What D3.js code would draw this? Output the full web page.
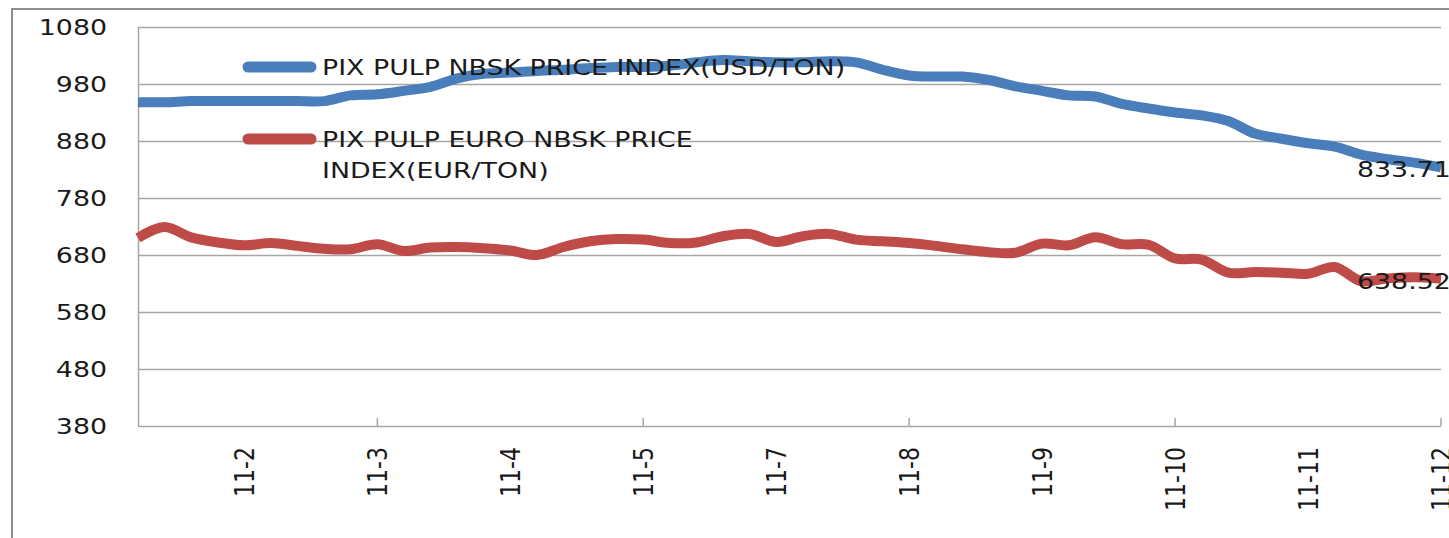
<html lang="en">

<head>
    <meta charset="UTF-8">
    <title>PIX Pulp NBSK</title>
    <style>
        body { margin: 0; background: #fff; }
        svg { display: block; font-family: "DejaVu Sans", Verdana, sans-serif; }
    </style>
</head>

<body>
    <script src="https://d3js.org/d3.v7.min.js"></script>

    <script>

        const w = 1449;
        const h = 538;

        // month of each weekly observation
        const categories = [
            "11-1", "11-1", "11-1", "11-1", "11-2", "11-2", "11-2", "11-2", "11-2", "11-3",
            "11-3", "11-3", "11-3", "11-3", "11-4", "11-4", "11-4", "11-4", "11-4", "11-5",
            "11-5", "11-5", "11-6", "11-6", "11-7", "11-7", "11-7", "11-7", "11-7", "11-8",
            "11-8", "11-8", "11-8", "11-8", "11-9", "11-9", "11-9", "11-9", "11-9", "11-10",
            "11-10", "11-10", "11-10", "11-10", "11-11", "11-11", "11-11", "11-11", "11-11", "11-12"];

        const usdIndex = [
            948, 948, 950, 950, 950, 950, 950, 950, 960, 962,
            968, 975, 990, 998, 1000, 1003, 1005, 1008, 1010, 1010,
            1012, 1018, 1022, 1020, 1018, 1018, 1020, 1018, 1005, 995,
            993, 993, 987, 976, 968, 960, 958, 945, 937, 930,
            925, 915, 893, 884, 876, 870, 856, 848, 842, 833.71];

        const eurIndex = [
            710, 729, 711, 702, 697, 701, 696, 691, 690, 699,
            687, 693, 694, 692, 688, 680, 694, 704, 708, 707,
            701, 702, 713, 717, 703, 713, 717, 707, 704, 701,
            696, 690, 685, 684, 700, 697, 711, 699, 698, 674,
            672, 649, 650, 649, 647, 659, 634, 639, 641, 638.52];

        const yTicks = [380, 480, 580, 680, 780, 880, 980, 1080];

        const series = [
            { name: ["PIX PULP NBSK PRICE INDEX(USD/TON)"], values: usdIndex, colour: "#4a7ebb" },
            { name: ["PIX PULP EURO NBSK PRICE", "INDEX(EUR/TON)"], values: eurIndex, colour: "#be4b48" }];

        const stretch = 1.22;   // the picture's text is wider than tall
        const fontSize = 22;
        const grid = "#a6a6a6";

        const plot = { left: 138, right: 1441, top: 27, bottom: 426 };

        const svg = d3.select("body")
            .append("svg")
            .attr("width", w)
            .attr("height", h);

        // chart area border
        svg.append("rect")
            .attr("x", 12)
            .attr("y", 9)
            .attr("width", w)
            .attr("height", h)
            .attr("fill", "none")
            .attr("stroke", "#8e8e8e")
            .attr("stroke-width", 2);

        const xScale = d3.scalePoint()
            .domain(d3.range(categories.length))
            .range([plot.left, plot.right]);

        const yScale = d3.scaleLinear()
            .domain([380, 1080])
            .range([plot.bottom, plot.top]);

        // gridlines
        svg.append("g")
            .selectAll("line")
            .data(yTicks)
            .enter()
            .append("line")
            .attr("x1", plot.left)
            .attr("x2", plot.right)
            .attr("y1", (d) => yScale(d) + 0.5)
            .attr("y2", (d) => yScale(d) + 0.5)
            .attr("stroke", grid)
            .attr("stroke-width", 1.5);

        // y axis line + labels
        svg.append("line")
            .attr("x1", plot.left + 0.5)
            .attr("x2", plot.left + 0.5)
            .attr("y1", plot.top)
            .attr("y2", plot.bottom)
            .attr("stroke", grid)
            .attr("stroke-width", 1.5);

        svg.append("g")
            .selectAll("text")
            .data(yTicks)
            .enter()
            .append("text")
            .attr("transform", (d) => "translate(107," + yScale(d) + ") scale(" + stretch + ",1)")
            .attr("text-anchor", "end")
            .attr("dy", "0.36em")
            .attr("font-size", fontSize)
            .attr("fill", "#1a1a1a")
            .text((d) => d);

        // x axis: labels every 5th week, tick marks every 10th
        const labelIdx = xScale.domain().filter((i) => i % 5 === 4);
        const tickIdx = xScale.domain().filter((i) => i % 10 === 9);

        svg.append("g")
            .selectAll("line")
            .data(tickIdx)
            .enter()
            .append("line")
            .attr("x1", (d) => xScale(d))
            .attr("x2", (d) => xScale(d))
            .attr("y1", plot.bottom - 8)
            .attr("y2", plot.bottom)
            .attr("stroke", grid)
            .attr("stroke-width", 1.5);

        svg.append("g")
            .selectAll("text")
            .data(labelIdx)
            .enter()
            .append("text")
            .attr("transform", (d) => "translate(" + xScale(d) + ",447) scale(" + stretch + ",1) rotate(-90)")
            .attr("text-anchor", "end")
            .attr("dy", "0.36em")
            .attr("font-size", fontSize)
            .attr("fill", "#1a1a1a")
            .text((d) => categories[d]);

        // series lines (smoothed like the original)
        const line = d3.line()
            .x((d, i) => xScale(i))
            .y((d) => yScale(d))
            .curve(d3.curveCatmullRom.alpha(0.5));

        svg.append("g")
            .selectAll("path")
            .data(series)
            .enter()
            .append("path")
            .attr("d", (d) => line(d.values))
            .attr("fill", "none")
            .attr("stroke", (d) => d.colour)
            .attr("stroke-width", 10)
            .attr("stroke-linejoin", "round");

        // legend
        const legendRows = [67, 139];
        const legend = svg.append("g")
            .selectAll("g")
            .data(series)
            .enter()
            .append("g")
            .attr("transform", (d, i) => "translate(0," + legendRows[i] + ")");

        legend.append("line")
            .attr("x1", 248)
            .attr("x2", 311)
            .attr("stroke", (d) => d.colour)
            .attr("stroke-width", 11)
            .attr("stroke-linecap", "round");

        legend.append("text")
            .attr("transform", "translate(322,0) scale(" + stretch + ",1)")
            .attr("font-size", fontSize)
            .attr("fill", "#1a1a1a")
            .selectAll("tspan")
            .data((d) => d.name)
            .enter()
            .append("tspan")
            .attr("x", 0)
            .attr("y", (d, i) => i * 31)
            .attr("dy", "0.36em")
            .text((d) => d);

        // last value labels
        svg.append("g")
            .selectAll("text")
            .data(series)
            .enter()
            .append("text")
            .attr("transform", (d) => "translate(" + (xScale(categories.length - 1) - 84) + "," + (yScale(d.values[d.values.length - 1]) + 2) + ") scale(" + stretch + ",1)")
            .attr("dy", "0.36em")
            .attr("font-size", fontSize)
            .attr("fill", "#1a1a1a")
            .text((d) => d.values[d.values.length - 1].toFixed(2));

    </script>

</body>

</html>
